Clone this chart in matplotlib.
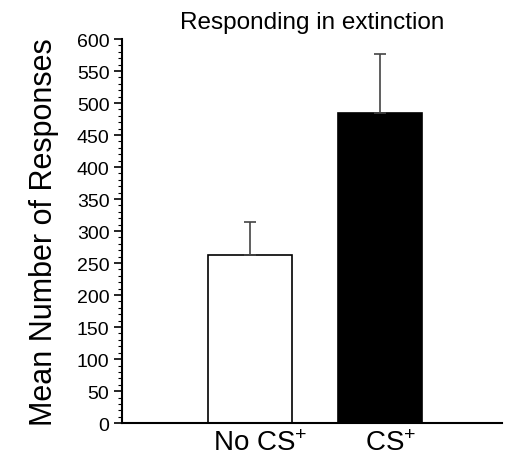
import numpy as np
import matplotlib
matplotlib.use('Agg')
import matplotlib.pyplot as plt
from matplotlib.ticker import MultipleLocator

# values
groups = ['No CS$^{+}$', 'CS$^{+}$']
means = [262, 484]
errs = [52, 92]
colors = ['white', 'black']

plt.rcParams['font.family'] = ['Liberation Sans', 'DejaVu Sans']
plt.rcParams['mathtext.fontset'] = 'custom'
plt.rcParams['mathtext.rm'] = 'Liberation Sans'
plt.rcParams['mathtext.it'] = 'Liberation Sans'

fig = plt.figure(figsize=(5.06, 4.6), dpi=100)
ax = fig.add_axes([0.241, 0.078, 0.751, 0.835])

x = np.arange(len(groups))
ax.bar(x, means, width=0.65, color=colors, edgecolor='black', linewidth=1.2,
       yerr=[np.zeros(len(errs)), errs], error_kw=dict(ecolor='#444444', elinewidth=1.2, capsize=4, capthick=1.2),
       zorder=2)

ax.set_xlim(-0.985, 1.94)
ax.set_ylim(0, 600)
ax.yaxis.set_major_locator(MultipleLocator(50))
ax.yaxis.set_minor_locator(MultipleLocator(10))
ax.set_xticks(x + 0.08)
ax.set_xticklabels(groups, fontsize=20)
ax.tick_params(axis='x', length=0, pad=5)
ax.tick_params(axis='y', which='major', length=6, width=1.2, labelsize=14, pad=3)
ax.tick_params(axis='y', which='minor', length=3, width=0.8)

for s in ['top', 'right']:
    ax.spines[s].set_visible(False)
ax.spines['left'].set_linewidth(1.5)
ax.spines['bottom'].set_linewidth(1.5)

ax.set_ylabel('Mean Number of Responses', fontsize=22, labelpad=13)
ax.set_title('Responding in extinction', fontsize=17.5, pad=8)

fig.savefig('out.png', dpi=100)
